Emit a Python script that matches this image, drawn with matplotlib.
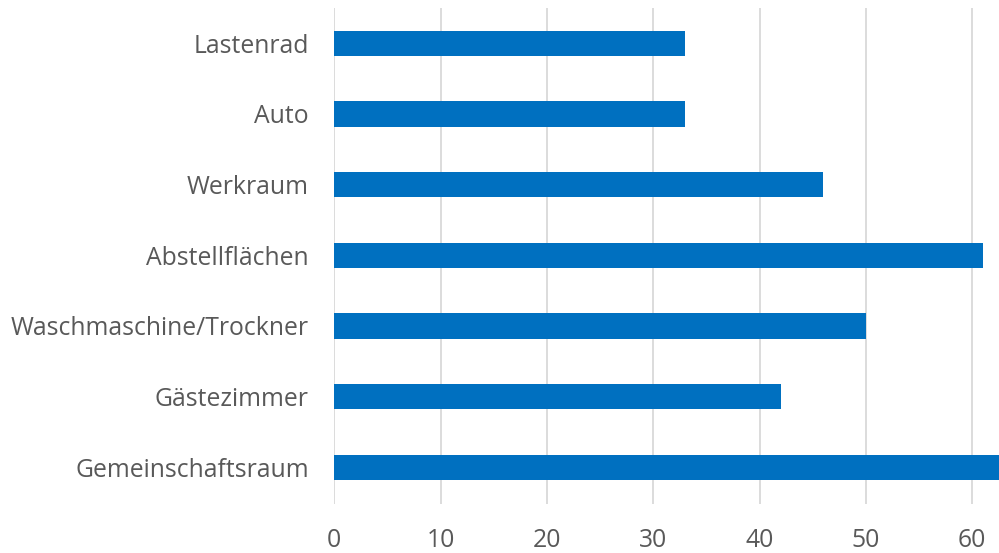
import matplotlib
matplotlib.use("Agg")
import matplotlib.pyplot as plt

# データ
categories = ["Gemeinschaftsraum", "Gästezimmer", "Waschmaschine/Trockner",
              "Abstellflächen", "Werkraum", "Auto", "Lastenrad"]
values = [65, 42, 50, 61, 46, 33, 33]
xticks = [0, 10, 20, 30, 40, 50, 60]

plt.rcParams["font.family"] = ["Open Sans", "DejaVu Sans"]

fig = plt.figure(figsize=(9.99, 5.53), dpi=100)
ax = fig.add_axes([0.3347, 0.0886, 1 - 0.3347, 0.9855 - 0.0886])

ax.barh(range(len(categories)), values, height=0.36, color="#0070C0", zorder=3)
ax.set_yticks(range(len(categories)))
ax.set_yticklabels(categories)
ax.set_ylim(-0.52, 6.5)
ax.set_xlim(0, 62.52)
ax.set_xticks(xticks)

ax.grid(axis="x", color="#d9d9d9", linewidth=1.3, zorder=0)
for s in ax.spines.values():
    s.set_visible(False)
ax.tick_params(axis="both", length=0, labelsize=17.8, labelcolor="#595959")
ax.tick_params(axis="y", pad=18.5)
ax.tick_params(axis="x", pad=17.5)

fig.savefig("out.png", dpi=100)
